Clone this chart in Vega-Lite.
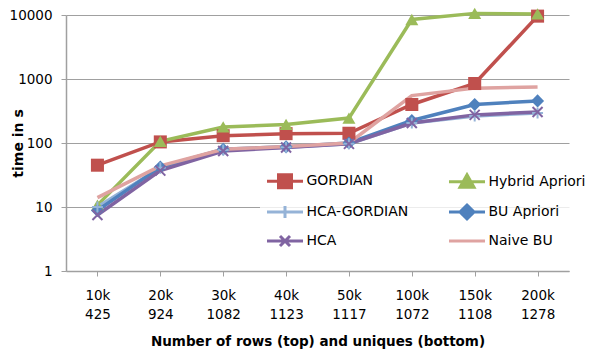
{
  "$schema": "https://vega.github.io/schema/vega-lite/v6.json",
  "width": 503,
  "height": 256,
  "autosize": {"type": "none"},
  "padding": {"left": 66, "top": 15, "right": 20, "bottom": 78},
  "background": "white",
  "config": {"view": {"stroke": null}, "font": "DejaVu Sans"},
  "data": {
    "values": [
      {"series": "GORDIAN", "x": "10k|425", "t": 45},
      {"series": "GORDIAN", "x": "20k|924", "t": 104},
      {"series": "GORDIAN", "x": "30k|1082", "t": 130},
      {"series": "GORDIAN", "x": "40k|1123", "t": 140},
      {"series": "GORDIAN", "x": "50k|1117", "t": 142},
      {"series": "GORDIAN", "x": "100k|1072", "t": 400},
      {"series": "GORDIAN", "x": "150k|1108", "t": 850},
      {"series": "GORDIAN", "x": "200k|1278", "t": 9600},
      {"series": "Hybrid Apriori", "x": "10k|425", "t": 10.7},
      {"series": "Hybrid Apriori", "x": "20k|924", "t": 106},
      {"series": "Hybrid Apriori", "x": "30k|1082", "t": 178},
      {"series": "Hybrid Apriori", "x": "40k|1123", "t": 195},
      {"series": "Hybrid Apriori", "x": "50k|1117", "t": 245},
      {"series": "Hybrid Apriori", "x": "100k|1072", "t": 8500},
      {"series": "Hybrid Apriori", "x": "150k|1108", "t": 10600},
      {"series": "Hybrid Apriori", "x": "200k|1278", "t": 10400},
      {"series": "HCA-GORDIAN", "x": "10k|425", "t": 10},
      {"series": "HCA-GORDIAN", "x": "20k|924", "t": 41},
      {"series": "HCA-GORDIAN", "x": "30k|1082", "t": 78},
      {"series": "HCA-GORDIAN", "x": "40k|1123", "t": 86},
      {"series": "HCA-GORDIAN", "x": "50k|1117", "t": 97},
      {"series": "HCA-GORDIAN", "x": "100k|1072", "t": 205},
      {"series": "HCA-GORDIAN", "x": "150k|1108", "t": 265},
      {"series": "HCA-GORDIAN", "x": "200k|1278", "t": 295},
      {"series": "BU Apriori", "x": "10k|425", "t": 8.8},
      {"series": "BU Apriori", "x": "20k|924", "t": 42},
      {"series": "BU Apriori", "x": "30k|1082", "t": 80},
      {"series": "BU Apriori", "x": "40k|1123", "t": 87},
      {"series": "BU Apriori", "x": "50k|1117", "t": 100},
      {"series": "BU Apriori", "x": "100k|1072", "t": 225},
      {"series": "BU Apriori", "x": "150k|1108", "t": 400},
      {"series": "BU Apriori", "x": "200k|1278", "t": 455},
      {"series": "HCA", "x": "10k|425", "t": 7.5},
      {"series": "HCA", "x": "20k|924", "t": 37},
      {"series": "HCA", "x": "30k|1082", "t": 75},
      {"series": "HCA", "x": "40k|1123", "t": 85},
      {"series": "HCA", "x": "50k|1117", "t": 97},
      {"series": "HCA", "x": "100k|1072", "t": 205},
      {"series": "HCA", "x": "150k|1108", "t": 275},
      {"series": "HCA", "x": "200k|1278", "t": 305},
      {"series": "Naive BU", "x": "10k|425", "t": 14},
      {"series": "Naive BU", "x": "20k|924", "t": 44},
      {"series": "Naive BU", "x": "30k|1082", "t": 80},
      {"series": "Naive BU", "x": "40k|1123", "t": 88},
      {"series": "Naive BU", "x": "50k|1117", "t": 100},
      {"series": "Naive BU", "x": "100k|1072", "t": 550},
      {"series": "Naive BU", "x": "150k|1108", "t": 720},
      {"series": "Naive BU", "x": "200k|1278", "t": 750}
    ]
  },
  "encoding": {
    "x": {
      "field": "x",
      "type": "ordinal",
      "scale": {"type": "point", "padding": 0.5, "domain": ["10k|425", "20k|924", "30k|1082", "40k|1123", "50k|1117", "100k|1072", "150k|1108", "200k|1278"]},
      "axis": {
        "title": "Number of rows (top) and uniques (bottom)",
        "titleFont": "DejaVu Sans",
        "titleFontSize": 13.5,
        "titleFontWeight": "bold",
        "titleColor": "black",
        "titlePadding": 14,
        "labelExpr": "split(datum.label, '|')",
        "labelAngle": 0,
        "labelFont": "DejaVu Sans",
        "labelFontSize": 13.5,
        "labelColor": "black",
        "labelLineHeight": 19,
        "labelPadding": 12,
        "tickSize": 5,
        "tickColor": "#a0a0a0",
        "domainColor": "#a0a0a0",
        "domainWidth": 1.5,
        "grid": false
      }
    },
    "y": {
      "field": "t",
      "type": "quantitative",
      "scale": {"type": "log", "domain": [1, 10000], "nice": false},
      "axis": {
        "title": "time in s",
        "titleFont": "DejaVu Sans",
        "titleFontSize": 14,
        "titleFontWeight": "bold",
        "titleColor": "black",
        "titleX": -48,
        "titleY": 128,
        "titleAngle": -90,
        "titleAlign": "center",
        "titleBaseline": "middle",
        "values": [1, 10, 100, 1000, 10000],
        "format": "d",
        "labelFont": "DejaVu Sans",
        "labelFontSize": 13.5,
        "labelColor": "black",
        "labelPadding": 9,
        "tickSize": 5,
        "tickColor": "#a0a0a0",
        "domainColor": "#a0a0a0",
        "domainWidth": 1.5,
        "grid": true,
        "gridColor": "#a0a0a0",
        "gridWidth": 1.2
      }
    }
  },
  "layer": [
    {
      "mark": {"type": "line", "strokeWidth": 3.5},
      "encoding": {
        "color": {
          "field": "series",
          "type": "nominal",
          "scale": {
            "domain": ["GORDIAN", "Hybrid Apriori", "HCA-GORDIAN", "BU Apriori", "HCA", "Naive BU"],
            "range": ["#C0504D", "#9BBB59", "#95B3D7", "#4F81BD", "#8064A2", "#DFA3A1"]
          },
          "legend": null
        }
      }
    },
    {
      "transform": [{"filter": {"field": "series", "equal": "GORDIAN"}}],
      "mark": {"type": "point", "shape": "square", "filled": true, "opacity": 1, "size": 170, "color": "#C0504D"}
    },
    {
      "transform": [{"filter": {"field": "series", "equal": "Hybrid Apriori"}}],
      "mark": {"type": "point", "shape": "triangle-up", "filled": true, "opacity": 1, "size": 170, "color": "#9BBB59"}
    },
    {
      "transform": [{"filter": {"field": "series", "equal": "BU Apriori"}}],
      "mark": {"type": "point", "shape": "diamond", "filled": true, "opacity": 1, "size": 170, "color": "#4F81BD"}
    },
    {
      "transform": [{"filter": {"field": "series", "equal": "HCA-GORDIAN"}}],
      "mark": {"type": "point", "shape": "M-1,0H1M0,-1V1", "filled": false, "opacity": 1, "size": 120, "strokeWidth": 2, "color": "#95B3D7"}
    },
    {
      "transform": [{"filter": {"field": "series", "equal": "HCA"}}],
      "mark": {"type": "point", "shape": "M-1,-1L1,1M-1,1L1,-1", "filled": false, "opacity": 1, "size": 100, "strokeWidth": 2, "color": "#8064A2"}
    },
    {
      "transform": [{"filter": "false"}],
      "mark": {"type": "point", "opacity": 1, "strokeWidth": 3},
      "encoding": {
        "fill": {
          "field": "series",
          "type": "nominal",
          "scale": {
            "domain": ["GORDIAN", "HCA-GORDIAN", "HCA", "Hybrid Apriori", "BU Apriori", "Naive BU"],
            "range": ["#C0504D", "#95B3D7", "#8064A2", "#9BBB59", "#4F81BD", "#DFA3A1"]
          },
          "legend": {
            "orient": "none",
            "legendX": 194,
            "legendY": 141,
            "columns": 2,
            "title": null,
            "padding": 18,
            "fillColor": "rgba(255,255,255,0.8)",
            "symbolSize": 100,
            "symbolStrokeWidth": 3,
            "symbolOpacity": 1,
            "labelFont": "DejaVu Sans",
            "labelFontSize": 14,
            "labelColor": "black",
            "labelOffset": 14.5,
            "columnPadding": 34,
            "rowPadding": 5
          }
        },
        "stroke": {
          "field": "series",
          "type": "nominal",
          "scale": {
            "domain": ["GORDIAN", "HCA-GORDIAN", "HCA", "Hybrid Apriori", "BU Apriori", "Naive BU"],
            "range": ["#C0504D", "#95B3D7", "#8064A2", "#9BBB59", "#4F81BD", "#DFA3A1"]
          },
          "legend": {
            "orient": "none",
            "legendX": 194,
            "legendY": 141,
            "columns": 2,
            "title": null,
            "padding": 18,
            "fillColor": "rgba(255,255,255,0.8)",
            "symbolSize": 100,
            "symbolStrokeWidth": 3,
            "symbolOpacity": 1,
            "labelFont": "DejaVu Sans",
            "labelFontSize": 14,
            "labelColor": "black",
            "labelOffset": 14.5,
            "columnPadding": 34,
            "rowPadding": 5
          }
        },
        "shape": {
          "field": "series",
          "type": "nominal",
          "scale": {
            "domain": ["GORDIAN", "HCA-GORDIAN", "HCA", "Hybrid Apriori", "BU Apriori", "Naive BU"],
            "range": [
              "M-3.6,0H3.6M-1.3,-1.3H1.3V1.3H-1.3Z",
              "M-3.6,0H3.6M0,-1.2V1.2",
              "M-3.6,0H3.6M-1,-1L1,1M-1,1L1,-1",
              "M-3.6,0H3.6M0,-1.4L1.4,1.1H-1.4Z",
              "M-3.6,0H3.6M0,-1.4L1.4,0L0,1.4L-1.4,0Z",
              "M-3.6,0H3.6"
            ]
          },
          "legend": {
            "orient": "none",
            "legendX": 194,
            "legendY": 141,
            "columns": 2,
            "title": null,
            "padding": 18,
            "fillColor": "rgba(255,255,255,0.8)",
            "symbolSize": 100,
            "symbolStrokeWidth": 3,
            "symbolOpacity": 1,
            "labelFont": "DejaVu Sans",
            "labelFontSize": 14,
            "labelColor": "black",
            "labelOffset": 14.5,
            "columnPadding": 34,
            "rowPadding": 5
          }
        }
      }
    }
  ]
}
